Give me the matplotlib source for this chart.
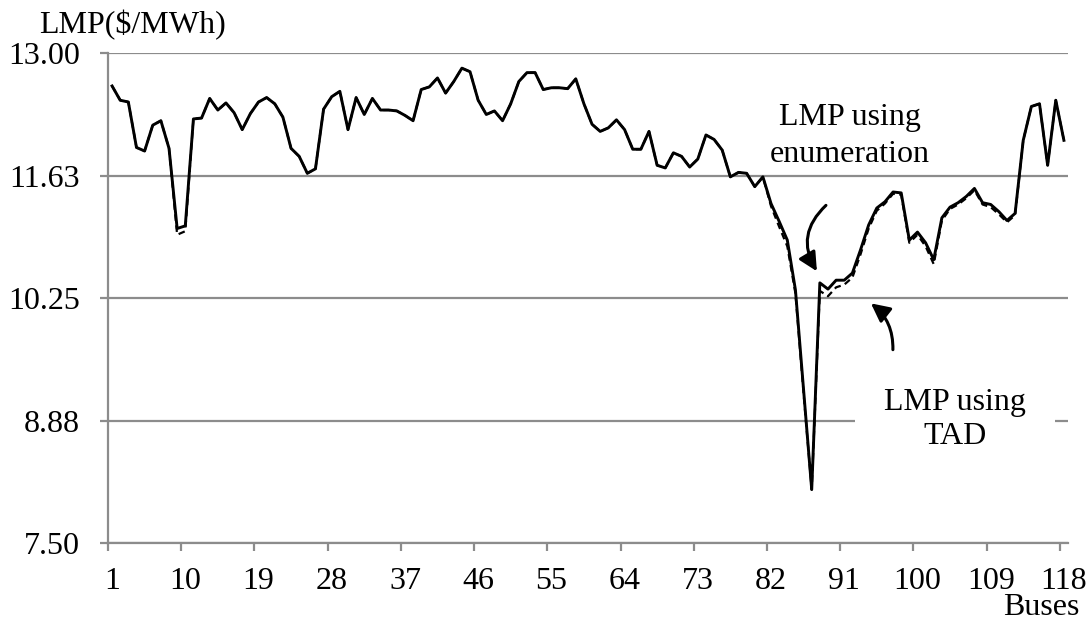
from matplotlib import pyplot as plt
import numpy as np

plt.rcParams["font.family"] = ["Liberation Serif", "DejaVu Serif"]

# LMP per bus for the IEEE 118-bus case
buses = np.arange(1, 119)
lmp_enum = [
    12.63, 12.47, 12.45, 11.94, 11.90, 12.19, 12.24, 11.93, 11.03, 11.06,
    12.26, 12.27, 12.49, 12.36, 12.44, 12.33, 12.14, 12.32, 12.45, 12.50,
    12.43, 12.28, 11.93, 11.84, 11.65, 11.70, 12.37, 12.51, 12.57, 12.14,
    12.50, 12.31, 12.49, 12.36, 12.36, 12.35, 12.30, 12.24, 12.59, 12.62,
    12.72, 12.55, 12.68, 12.83, 12.79, 12.47, 12.31, 12.35, 12.24, 12.43,
    12.68, 12.78, 12.78, 12.59, 12.61, 12.61, 12.60, 12.71, 12.43, 12.20,
    12.12, 12.16, 12.25, 12.14, 11.92, 11.92, 12.12, 11.74, 11.71, 11.88,
    11.84, 11.72, 11.81, 12.08, 12.03, 11.91, 11.61, 11.66, 11.65, 11.50,
    11.61, 11.31, 11.11, 10.90, 10.34, 9.22, 8.10, 10.42, 10.35, 10.45,
    10.45, 10.53, 10.79, 11.07, 11.26, 11.33, 11.44, 11.43, 10.90, 10.99,
    10.87, 10.68, 11.15, 11.27, 11.32, 11.39, 11.48, 11.32, 11.30, 11.22,
    11.12, 11.20, 12.02, 12.40, 12.43, 11.74, 12.47, 12.02,
]
lmp_tad = [
    12.63, 12.47, 12.45, 11.94, 11.90, 12.19, 12.24, 11.93, 10.96, 11.00,
    12.26, 12.27, 12.49, 12.36, 12.44, 12.33, 12.14, 12.32, 12.45, 12.50,
    12.43, 12.28, 11.93, 11.84, 11.65, 11.70, 12.37, 12.51, 12.57, 12.14,
    12.50, 12.31, 12.49, 12.36, 12.36, 12.35, 12.30, 12.24, 12.59, 12.62,
    12.72, 12.55, 12.68, 12.83, 12.79, 12.47, 12.31, 12.35, 12.24, 12.43,
    12.68, 12.78, 12.78, 12.59, 12.61, 12.61, 12.60, 12.71, 12.43, 12.20,
    12.12, 12.16, 12.25, 12.14, 11.92, 11.92, 12.12, 11.74, 11.71, 11.88,
    11.84, 11.72, 11.81, 12.08, 12.03, 11.91, 11.61, 11.66, 11.65, 11.50,
    11.61, 11.28, 11.05, 10.83, 10.30, 9.18, 8.10, 10.33, 10.27, 10.37,
    10.40, 10.48, 10.74, 11.03, 11.23, 11.31, 11.42, 11.41, 10.87, 10.96,
    10.83, 10.63, 11.12, 11.25, 11.30, 11.37, 11.46, 11.30, 11.27, 11.19,
    11.10, 11.18, 12.02, 12.40, 12.43, 11.74, 12.47, 12.02,
]
y_ticks = [7.5, 8.875, 10.25, 11.625, 13.0]
y_labels = ["7.50", "8.88", "10.25", "11.63", "13.00"]
x_labels = list(range(1, 119, 9))

grey = "#8c8c8c"
fs = 23
fig = plt.figure(figsize=(10.92, 6.23), dpi=100)
ax = fig.add_axes([0.0989, 0.1284, 0.8791, 0.7865])

ax.plot(buses, lmp_enum, color="black", lw=2.1, zorder=3)
ax.plot(buses, lmp_tad, color="black", lw=1.6, ls=(0, (3, 2)), zorder=4)

ax.set_xlim(0.5, 118.5)
ax.set_ylim(7.5, 13.0)

# y axis: gridlines that run into the outward tick marks
ax.set_yticks(y_ticks)
ax.set_yticklabels(y_labels)
ax.yaxis.grid(True, color=grey, lw=1.6)
ax.tick_params(axis="y", direction="out", length=6, width=1.6, color=grey,
               labelsize=fs, pad=14)

# x axis: ticks sit between categories, labels on the categories
ax.set_xticks(np.arange(0.5, 119, 9))
ax.set_xticklabels([])
ax.set_xticks(x_labels, minor=True)
ax.set_xticklabels([str(b) for b in x_labels], minor=True)
ax.tick_params(axis="x", which="major", direction="out", length=6, width=1.6,
               color=grey)
ax.tick_params(axis="x", which="minor", length=0, labelsize=fs, pad=17)

for s in ["top", "right"]:
    ax.spines[s].set_visible(False)
for s in ["left", "bottom"]:
    ax.spines[s].set_color(grey)
    ax.spines[s].set_linewidth(1.6)
ax.set_axisbelow(True)

H = 623
fig.text(133 / 1092, 1 - 33 / H, "LMP($/MWh)", fontsize=fs,
         ha="center", va="baseline")
fig.text(1041 / 1092, 1 - 615 / H, "Buses", fontsize=fs,
         ha="center", va="baseline")

# multi-line labels: y is the baseline of the last line
fig.text(850 / 1092, 1 - 162 / H, "LMP using\nenumeration", fontsize=fs,
         ha="center", va="baseline", multialignment="center",
         linespacing=1.38)
fig.text(955 / 1092, 1 - 444 / H, "LMP using\nTAD", fontsize=fs,
         ha="center", va="baseline", multialignment="center",
         linespacing=1.24,
         bbox=dict(boxstyle="square,pad=0.9", fc="white", ec="none"))

arrow = dict(arrowstyle="-|>,head_length=0.4,head_width=0.2",
             color="black", lw=2.2, mutation_scale=28, shrinkA=0, shrinkB=0)
ax.annotate("", xy=(87.64, 10.55), xytext=(88.75, 11.29),
            arrowprops=dict(arrow, connectionstyle="arc3,rad=0.4"))
ax.annotate("", xy=(94.28, 10.19), xytext=(96.98, 9.67),
            arrowprops=dict(arrow, connectionstyle="arc3,rad=0.25"))

fig.savefig("out.png", dpi=100)
